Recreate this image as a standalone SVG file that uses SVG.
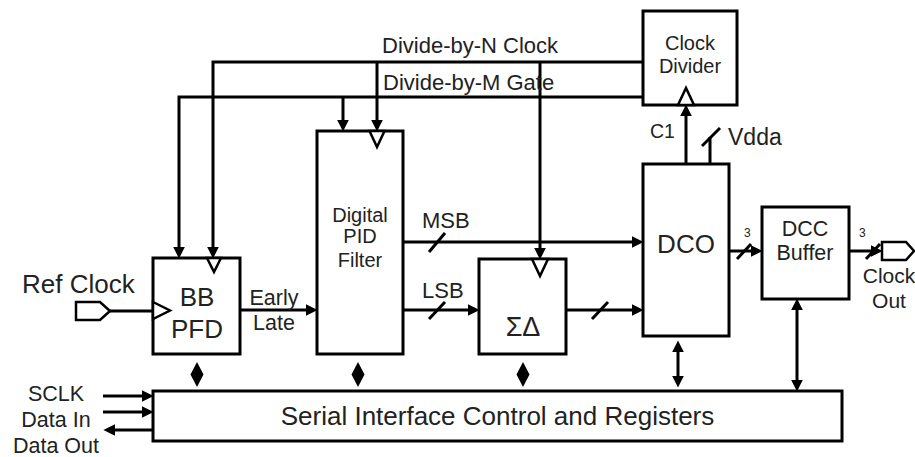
<svg xmlns="http://www.w3.org/2000/svg" width="915" height="457" viewBox="0 0 915 457">
  <style>
    .box { fill: #fff; stroke: #000; stroke-width: 3; }
    .clk { fill: #fff; stroke: #000; stroke-width: 2.5; stroke-linejoin: miter; }
    .w { fill: none; stroke: #000; stroke-width: 3; }
    .a { marker-end: url(#ah); }
    .d { marker-start: url(#ah); marker-end: url(#ah); }
    .s { marker-start: url(#ah); }
    .sl { stroke: #000; stroke-width: 3; }
    .dia { fill: #000; stroke: none; }
    text { font-family: "Liberation Sans", Arial, sans-serif; fill: #222; }
    .m { text-anchor: middle; }
  </style>
  <defs>
    <marker id="ah" markerUnits="userSpaceOnUse" markerWidth="12" markerHeight="12" viewBox="0 0 10 10" refX="7" refY="5" orient="auto-start-reverse">
      <path d="M0,0 L10,5 L0,10 z" fill="#000"/>
    </marker>
  </defs>

  <g id="connectors">
    <path class="w s" d="M213,255 V62 H643"/>
    <path class="w s" d="M179,255 V97 H643"/>
    <path class="w a" d="M343,97 V128"/>
    <path class="w a" d="M377,62 V128"/>
    <path class="w a" d="M540,62 V256"/>
    <path class="w" d="M110,311 H153"/>
    <path class="w a" d="M240,310 H314"/>
    <path class="w a" d="M403,242 H640"/>
    <path class="w a" d="M403,310 H476"/>
    <path class="w a" d="M566,310 H640"/>
    <path class="w a" d="M686,164 V108"/>
    <path class="w a" d="M729,251 H759"/>
    <path class="w a" d="M849,251 H879"/>
    <path class="w a" d="M103,396 H150"/>
    <path class="w a" d="M103,412 H150"/>
    <path class="w a" d="M153,430 H107"/>
    <path class="w d" d="M678,344 V384"/>
    <path class="w d" d="M797,302 V388"/>
    <line class="sl" x1="429" y1="252" x2="445" y2="233"/>
    <line class="sl" x1="429" y1="319" x2="445" y2="302"/>
    <line class="sl" x1="592" y1="319" x2="608" y2="302"/>
    <line class="sl" x1="737" y1="259" x2="751" y2="244"/>
    <line class="sl" x1="866" y1="259" x2="880" y2="244"/>
    <polygon class="dia" points="197,362 203.5,374.5 197,387 190.5,374.5"/>
    <polygon class="dia" points="358,362 364.5,374.5 358,387 351.5,374.5"/>
    <polygon class="dia" points="523,362 529.5,374.5 523,387 516.5,374.5"/>
    <path class="w" d="M710,164 V137"/>
    <line class="sl" x1="702" y1="146" x2="720" y2="128"/>
    <text x="382" y="53" font-size="22">Divide-by-N Clock</text>
    <text x="383" y="90" font-size="22">Divide-by-M Gate</text>
    <text x="650" y="138" font-size="19.5">C1</text>
    <text x="728" y="145" font-size="23">Vdda</text>
    <text x="422" y="228" font-size="22">MSB</text>
    <text x="422" y="298" font-size="22">LSB</text>
    <text class="m" x="274" y="305" font-size="21.5">Early</text>
    <text class="m" x="274" y="330" font-size="21.5">Late</text>
    <text x="744" y="237" font-size="12">3</text>
    <text x="859" y="237" font-size="12">3</text>
    <text class="m" x="56" y="401" font-size="21.5">SCLK</text>
    <text class="m" x="56" y="427" font-size="21.5">Data In</text>
    <text class="m" x="56" y="453" font-size="21.5">Data Out</text>
  </g>

  <g id="clock-divider">
    <rect class="box" x="643" y="11" width="94" height="94"/>
    <polygon class="clk" points="678,105 694,105 686,88"/>
    <text class="m" x="690" y="50" font-size="20">Clock</text>
    <text class="m" x="690" y="73" font-size="20">Divider</text>
  </g>

  <g id="pid-filter">
    <rect class="box" x="317" y="131" width="86" height="223"/>
    <polygon class="clk" points="369.5,131 384.5,131 377,147"/>
    <text class="m" x="360" y="222" font-size="20">Digital</text>
    <text class="m" x="360" y="243" font-size="20">PID</text>
    <text class="m" x="360" y="267" font-size="20">Filter</text>
  </g>

  <g id="bb-pfd">
    <rect class="box" x="153" y="258" width="87" height="96"/>
    <polygon class="clk" points="207,258 221,258 214,272"/>
    <polygon class="clk" points="153,302 170,310.5 153,319"/>
    <text class="m" x="197" y="306" font-size="26">BB</text>
    <text class="m" x="197" y="338" font-size="26">PFD</text>
  </g>

  <g id="ref-clock">
    <polygon class="clk" points="76,302 100,302 110,311 100,320 76,320"/>
    <text x="22" y="293" font-size="26">Ref Clock</text>
  </g>

  <g id="sigma-delta">
    <rect class="box" x="479" y="259" width="87" height="95"/>
    <polygon class="clk" points="532,259 548,259 540,276"/>
    <text class="m" x="523" y="336" font-size="27">ΣΔ</text>
  </g>

  <g id="dco">
    <rect class="box" x="643" y="164" width="86" height="172"/>
    <text class="m" x="686" y="253" font-size="26">DCO</text>
  </g>

  <g id="dcc-buffer">
    <rect class="box" x="762" y="207" width="87" height="92"/>
    <text class="m" x="805" y="236" font-size="21.5">DCC</text>
    <text class="m" x="805" y="260" font-size="21.5">Buffer</text>
  </g>

  <g id="clock-out">
    <polygon class="clk" points="882,242 906,242 914,251 906,260 882,260"/>
    <text class="m" x="889" y="283" font-size="21">Clock</text>
    <text class="m" x="889" y="308" font-size="21">Out</text>
  </g>

  <g id="serial-interface">
    <rect class="box" x="153" y="391" width="689" height="50"/>
    <text class="m" x="497.5" y="425" font-size="26">Serial Interface Control and Registers</text>
  </g>
</svg>
